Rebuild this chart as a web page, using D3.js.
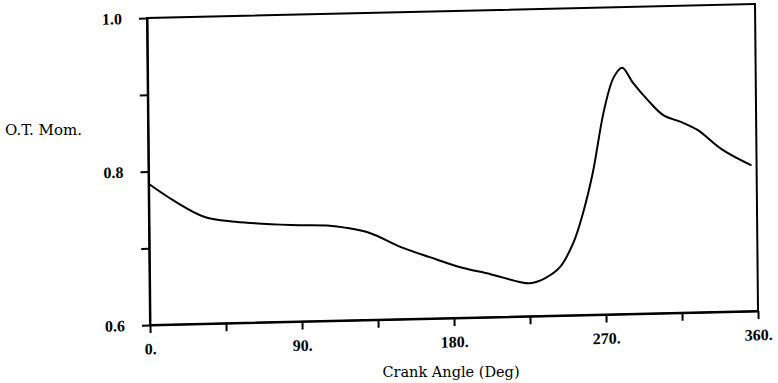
<!DOCTYPE html>
<html>
<head>
<meta charset="utf-8">
<script src="https://cdn.jsdelivr.net/npm/d3@7"></script>
<style>
  body { margin: 0; background: #fff; }
  svg { display: block; }
</style>
</head>
<body>
<script>
// crank angle (deg) and overturning moment
const crankAngle = [0, 15, 33, 51, 84, 107, 116, 131, 149, 166, 184, 202, 219, 225, 234, 243, 251, 257, 263, 270, 276, 281, 287, 296, 305, 315, 325, 340, 357];
const otMoment = [0.784, 0.761, 0.739, 0.732, 0.726, 0.724, 0.721, 0.713, 0.694, 0.680, 0.666, 0.656, 0.645, 0.643, 0.649, 0.663, 0.694, 0.733, 0.785, 0.866, 0.909, 0.921, 0.902, 0.878, 0.858, 0.849, 0.838, 0.811, 0.790];

const xTicks = [0, 45, 90, 135, 180, 225, 270, 315, 360];
const xTickLabels = ['0.', '', '90.', '', '180.', '', '270.', '', '360.'];
const yTicks = [0.6, 0.7, 0.8, 0.9, 1.0];
const yTickLabels = ['0.6', '', '0.8', '', '1.0'];

const data = crankAngle.map((a, i) => ({ angle: a, mom: otMoment[i] }));

const dimensions = {
        width: 778,
        height: 383,
        // the scan is a little crooked, so the plot box is mapped onto these corners
        topLeft: [147, 18],
        bottomLeft: [150, 325],
        bottomRight: [758, 311],
};
dimensions.boundedWidth = dimensions.bottomRight[0] - dimensions.bottomLeft[0];
dimensions.boundedHeight = dimensions.bottomLeft[1] - dimensions.topLeft[1];

const skew = [
        (dimensions.bottomRight[0] - dimensions.bottomLeft[0]) / dimensions.boundedWidth,
        (dimensions.bottomRight[1] - dimensions.bottomLeft[1]) / dimensions.boundedWidth,
        (dimensions.bottomLeft[0] - dimensions.topLeft[0]) / dimensions.boundedHeight,
        (dimensions.bottomLeft[1] - dimensions.topLeft[1]) / dimensions.boundedHeight,
        dimensions.topLeft[0],
        dimensions.topLeft[1],
];

const svg = d3.select('body')
        .append('svg')
        .attr('width', dimensions.width)
        .attr('height', dimensions.height)
        .attr('viewBox', `0 0 ${dimensions.width} ${dimensions.height}`);

svg.append('rect')
        .attr('width', dimensions.width)
        .attr('height', dimensions.height)
        .attr('fill', '#fff');

const bounds = svg.append('g')
        .attr('transform', `matrix(${skew.join(',')})`);

const xScale = d3.scaleLinear().domain([0, 360]).range([0, dimensions.boundedWidth]);
const yScale = d3.scaleLinear().domain([0.6, 1.0]).range([dimensions.boundedHeight, 0]);

// frame
bounds.append('rect')
        .attr('x', xScale(0))
        .attr('y', yScale(1.0))
        .attr('width', xScale(360) - xScale(0))
        .attr('height', yScale(0.6) - yScale(1.0))
        .attr('fill', 'none')
        .attr('stroke', '#000')
        .attr('stroke-width', 2);

const xAxis = bounds.append('g')
        .attr('class', 'x axis')
        .attr('transform', `translate(0,${dimensions.boundedHeight})`)
        .call(d3.axisBottom(xScale)
                .tickValues(xTicks)
                .tickFormat((d, i) => xTickLabels[i])
                .tickSize(8)
                .tickSizeOuter(0)
                .tickPadding(10));

const yAxis = bounds.append('g')
        .attr('class', 'y axis')
        .call(d3.axisLeft(yScale)
                .tickValues(yTicks)
                .tickFormat((d, i) => yTickLabels[i])
                .tickSize(8)
                .tickSizeOuter(0)
                .tickPadding(17));

[xAxis, yAxis].forEach(ax => {
        ax.select('.domain').attr('stroke-width', 2);
        ax.selectAll('line').attr('stroke-width', 2);
        ax.selectAll('text')
                .attr('fill', '#000')
                .style('font-family', '"Liberation Serif", serif')
                .style('font-weight', 'bold')
                .style('font-size', '16px');
});

const line = d3.line()
        .x(d => xScale(d.angle))
        .y(d => yScale(d.mom))
        .curve(d3.curveCatmullRom.alpha(0.5));

bounds.append('path')
        .datum(data)
        .attr('d', line)
        .attr('fill', 'none')
        .attr('stroke', '#000')
        .attr('stroke-width', 2);

// axis titles
svg.append('text')
        .attr('x', 451)
        .attr('y', 377)
        .attr('text-anchor', 'middle')
        .style('font-family', '"DejaVu Serif", serif')
        .style('font-size', '14.5px')
        .text('Crank Angle (Deg)');

svg.append('text')
        .attr('x', 5)
        .attr('y', 135)
        .style('font-family', '"DejaVu Serif", serif')
        .style('font-size', '15px')
        .text('O.T. Mom.');
</script>
</body>
</html>
